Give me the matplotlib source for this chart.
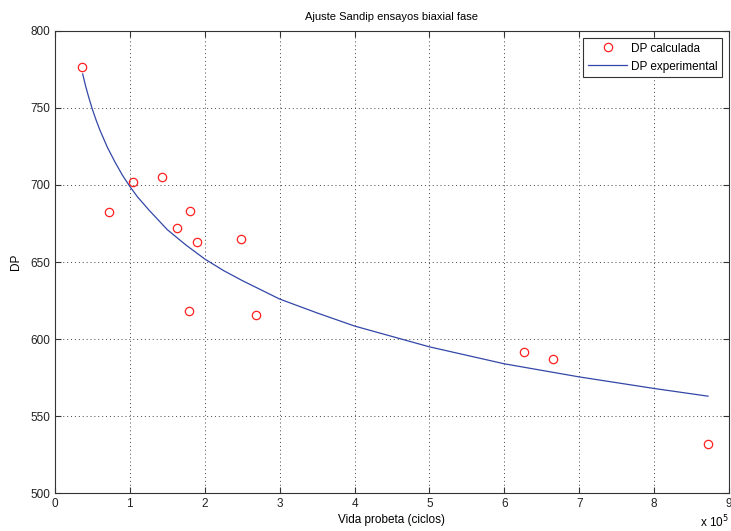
import matplotlib.pyplot as plt
import numpy as np

# Vida probeta in units of 1e5 ciclos
vida_calc = [0.356, 0.721, 1.037, 1.429, 1.625, 1.802, 1.892, 1.789, 2.483, 2.680, 6.258, 6.645, 8.723]
dp_calc = [776.7, 682.2, 702.1, 705.1, 672.0, 682.9, 662.8, 618.4, 665.1, 615.6, 591.4, 586.9, 532.2]

# fitted curve
vida_exp = [0.37, 0.41, 0.45, 0.5, 0.55, 0.6, 0.65, 0.7, 0.8, 0.9, 1.0, 1.1, 1.25, 1.5, 1.75,
            2.0, 2.25, 2.5, 3.0, 3.5, 4.0, 5.0, 6.0, 7.0, 8.0, 8.72]
dp_exp = [772, 764, 757, 749, 742, 735.6, 730, 724.4, 715, 706.4, 699, 692.4, 684, 671, 661,
          652, 644.5, 638, 626, 617, 608.5, 595, 584, 575.5, 568, 563]

x_ticks = np.arange(0, 10)
y_ticks = np.arange(500, 801, 50)


def main():
    plt.rcParams['font.family'] = ['Liberation Sans', 'DejaVu Sans']
    plt.rcParams['font.size'] = 8

    fig = plt.figure(figsize=(7.31, 5.31), dpi=100)
    ax = fig.add_axes([0.0752, 0.071, 0.922, 0.871])

    ax.plot(vida_calc, dp_calc, 'o', mfc='none', mec='#ff2020', ms=6, mew=0.9,
            label='DP calculada')
    ax.plot(vida_exp, dp_exp, '-', color='#3347a8', lw=0.9, label='DP experimental')

    ax.set_xlim(0, 9)
    ax.set_ylim(500, 800)
    ax.set_xticks(x_ticks)
    ax.set_yticks(y_ticks)
    ax.grid(True, ls=(0, (1, 3)), color='#444444', lw=0.7)
    ax.tick_params(direction='in', top=True, right=True, length=4, colors='#333333',
                   labelcolor='#222222', labelsize=8.5)
    for s in ax.spines.values():
        s.set_color('#333333')

    ax.set_title('Ajuste Sandip ensayos biaxial fase', fontsize=8, pad=8)
    ax.set_xlabel('Vida probeta (ciclos)', fontsize=8.5, labelpad=3)
    ax.set_ylabel('DP', fontsize=8.5, labelpad=6)
    ax.text(1.0, -0.073, r'x 10$^5$', transform=ax.transAxes, ha='right', va='baseline',
            fontsize=8.5)

    leg = ax.legend(loc='upper right', fancybox=False, framealpha=1, fontsize=8.5,
                    borderaxespad=0.6, handlelength=3.3, handletextpad=0.3)
    leg.get_frame().set_edgecolor('#333333')
    leg.get_frame().set_linewidth(0.8)

    fig.savefig('out.png', dpi=100)


if __name__ == '__main__':
    main()
